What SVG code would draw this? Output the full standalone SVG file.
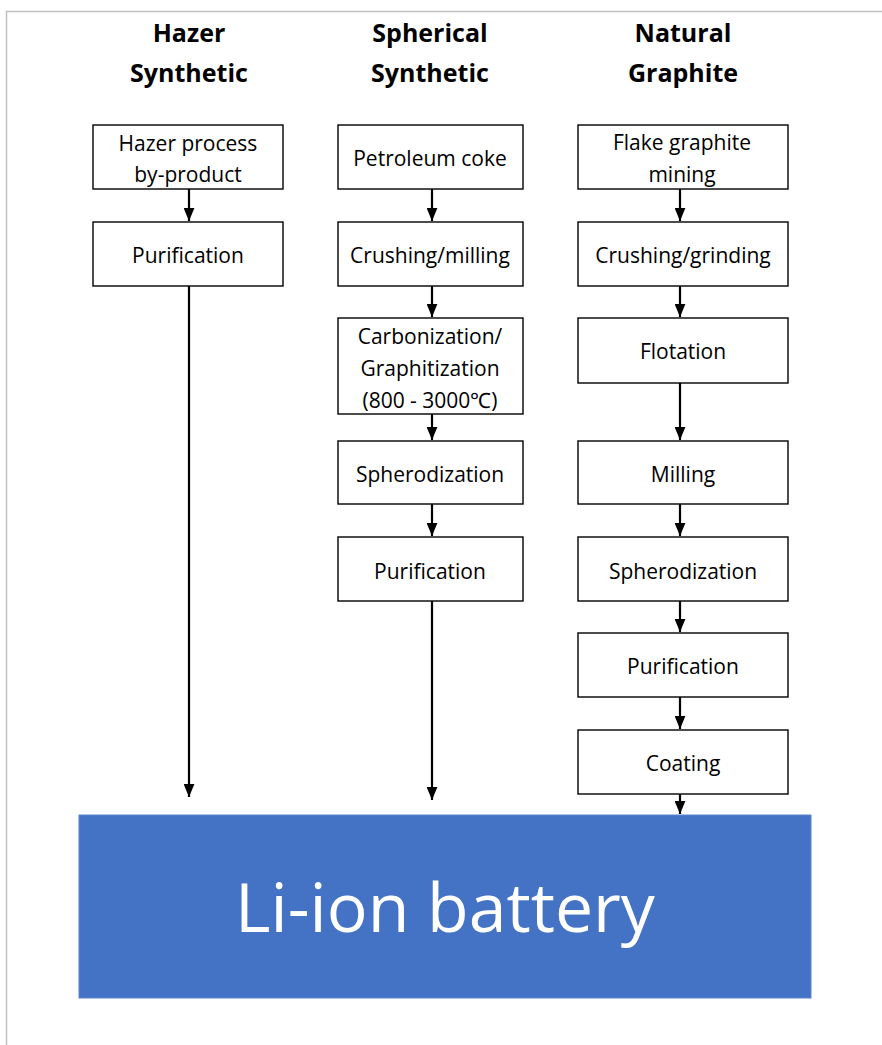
<svg xmlns="http://www.w3.org/2000/svg" width="882" height="1045" viewBox="0 0 882 1045">
<style>
.bg{fill:#ffffff}
.frame{fill:none;stroke:#c0c0c0;stroke-width:1.5}
.box{fill:#ffffff;stroke:#000000;stroke-width:1.4}
.lbl{font-family:"Open Sans","Liberation Sans",sans-serif;font-size:21px;fill:#000000;text-anchor:middle}
.ttl{font-family:"Open Sans","Liberation Sans",sans-serif;font-size:25px;font-weight:bold;fill:#000000;text-anchor:middle}
.conn line{stroke:#000000;stroke-width:2.2}
.big{font-family:"Open Sans","Liberation Sans",sans-serif;font-size:68px;fill:#ffffff;text-anchor:middle}
</style>
<defs>
<marker id="ah" markerWidth="6" markerHeight="5" refX="6" refY="2.5" orient="auto" markerUnits="strokeWidth">
<path d="M0,0 L6,2.5 L0,5 Z" fill="#000000"/>
</marker>
</defs>
<rect class="bg" x="0" y="0" width="882" height="1045"/>
<path class="frame" d="M6.5,1045 V11.5 H882"/>

<g id="titles">
<text class="ttl" x="189" y="42">Hazer</text>
<text class="ttl" x="189" y="82">Synthetic</text>
<text class="ttl" x="430" y="42">Spherical</text>
<text class="ttl" x="430" y="82">Synthetic</text>
<text class="ttl" x="683" y="42">Natural</text>
<text class="ttl" x="683" y="82">Graphite</text>
</g>

<g id="h1"><rect class="box" x="93" y="125" width="190" height="64"/><text class="lbl" x="188" y="151">Hazer process</text><text class="lbl" x="188" y="182">by-product</text></g>
<g id="h2"><rect class="box" x="93" y="222" width="190" height="64"/><text class="lbl" x="188" y="263">Purification</text></g>

<g id="s1"><rect class="box" x="338" y="125" width="185" height="64"/><text class="lbl" x="430" y="166">Petroleum coke</text></g>
<g id="s2"><rect class="box" x="338" y="222" width="185" height="64"/><text class="lbl" x="430" y="263">Crushing/milling</text></g>
<g id="s3"><rect class="box" x="338" y="318" width="185" height="96"/><text class="lbl" x="430" y="344">Carbonization/</text><text class="lbl" x="430" y="376">Graphitization</text><text class="lbl" x="430" y="408">(800 - 3000℃)</text></g>
<g id="s4"><rect class="box" x="338" y="441" width="185" height="63"/><text class="lbl" x="430" y="482">Spherodization</text></g>
<g id="s5"><rect class="box" x="338" y="537" width="185" height="64"/><text class="lbl" x="430" y="579">Purification</text></g>

<g id="n1"><rect class="box" x="578" y="125" width="210" height="64"/><text class="lbl" x="682" y="150">Flake graphite</text><text class="lbl" x="682" y="182">mining</text></g>
<g id="n2"><rect class="box" x="578" y="222" width="210" height="64"/><text class="lbl" x="683" y="263">Crushing/grinding</text></g>
<g id="n3"><rect class="box" x="578" y="318" width="210" height="65"/><text class="lbl" x="683" y="359">Flotation</text></g>
<g id="n4"><rect class="box" x="578" y="441" width="210" height="63"/><text class="lbl" x="683" y="482">Milling</text></g>
<g id="n5"><rect class="box" x="578" y="537" width="210" height="64"/><text class="lbl" x="683" y="579">Spherodization</text></g>
<g id="n6"><rect class="box" x="578" y="633" width="210" height="64"/><text class="lbl" x="683" y="674">Purification</text></g>
<g id="n7"><rect class="box" x="578" y="730" width="210" height="64"/><text class="lbl" x="683" y="771">Coating</text></g>

<g id="battery"><rect x="79" y="815" width="732" height="183" fill="#4472C4" stroke="#5b83cc" stroke-width="1"/><text class="big" x="445" y="932">Li-ion battery</text></g>

<g class="conn" id="connectors">
<line x1="189" y1="189" x2="189" y2="221" marker-end="url(#ah)"/>
<line x1="189" y1="286" x2="189" y2="797" marker-end="url(#ah)"/>
<line x1="432" y1="189" x2="432" y2="221" marker-end="url(#ah)"/>
<line x1="432" y1="286" x2="432" y2="317" marker-end="url(#ah)"/>
<line x1="432" y1="414" x2="432" y2="440" marker-end="url(#ah)"/>
<line x1="432" y1="504" x2="432" y2="536" marker-end="url(#ah)"/>
<line x1="432" y1="601" x2="432" y2="800" marker-end="url(#ah)"/>
<line x1="680" y1="189" x2="680" y2="221" marker-end="url(#ah)"/>
<line x1="680" y1="286" x2="680" y2="317" marker-end="url(#ah)"/>
<line x1="680" y1="383" x2="680" y2="440" marker-end="url(#ah)"/>
<line x1="680" y1="504" x2="680" y2="536" marker-end="url(#ah)"/>
<line x1="680" y1="601" x2="680" y2="632" marker-end="url(#ah)"/>
<line x1="680" y1="697" x2="680" y2="729" marker-end="url(#ah)"/>
<line x1="680" y1="794" x2="680" y2="814" marker-end="url(#ah)"/>
</g>
</svg>
